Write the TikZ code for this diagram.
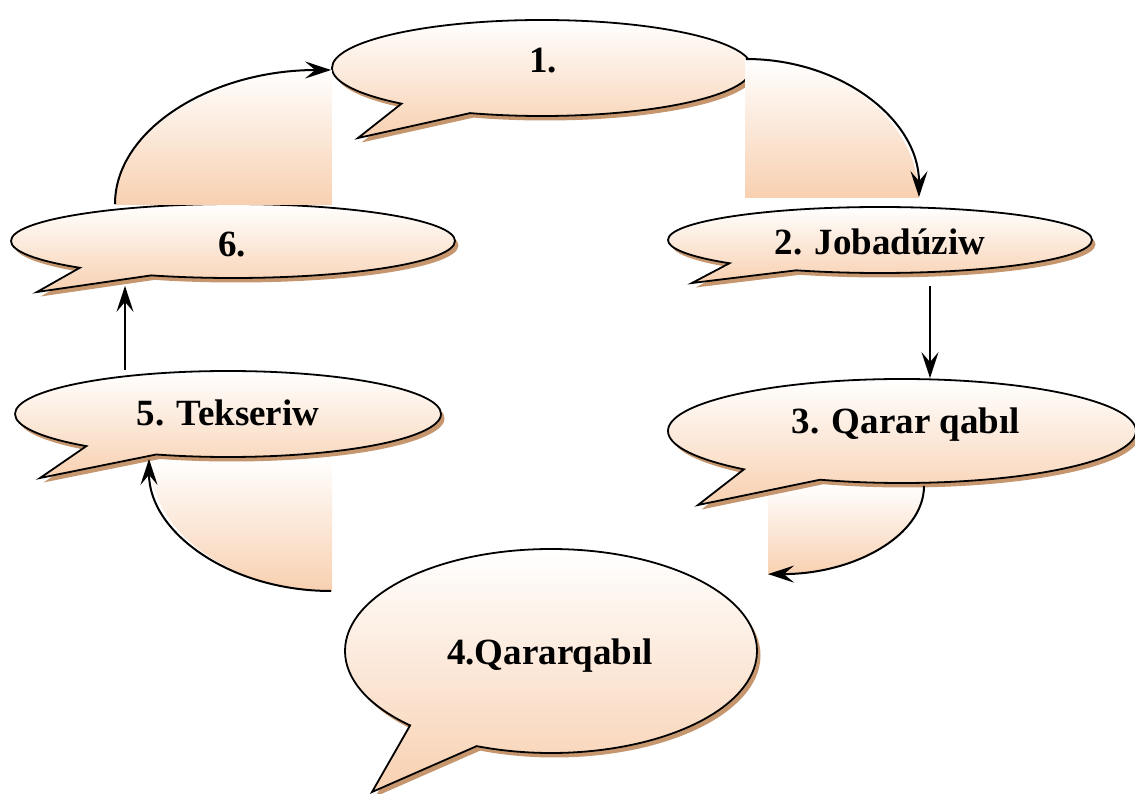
\documentclass[tikz,border=0pt]{standalone}
\usepackage{fontspec}
\setmainfont{Liberation Serif}
\usetikzlibrary{shapes.callouts,shadows,calc,arrows.meta}
\definecolor{peach}{RGB}{248,208,176}
\definecolor{shadowtan}{RGB}{198,150,110}
\begin{document}
\begin{tikzpicture}[x=1pt,y=-1pt,
  bubble/.style={ellipse callout, draw=black, line width=1.8pt, inner sep=0pt,
    callout pointer arc=22, top color=white, bottom color=peach,
    drop shadow={shadow xshift=3.5pt, shadow yshift=-4.5pt, fill=shadowtan, opacity=1}},
  lbl/.style={font=\bfseries\fontsize{37}{42}\selectfont, text height=25.5pt, text depth=0pt, inner sep=0pt},
  band/.style={top color=white, bottom color=peach, draw=none},
  conn/.style={line width=2pt, -{Stealth[length=26pt,width=17pt,inset=10pt]}}]
\useasboundingbox (0,0) rectangle (1135,794);
% fills under the lower callouts
\path[band] (768,485) -- (924,485) .. controls (924,534.7) and (854.2,575) .. (768,575) -- cycle;
\path[band] (332,458) -- (332,591) .. controls (230.9,591) and (149,531.5) .. (149,458) -- cycle;
% callouts
\node[bubble, minimum width=420pt, minimum height=96pt, callout absolute pointer={(358,138)}] (c1) at (542,68) {};
\node[bubble, minimum width=424pt, minimum height=66pt, callout absolute pointer={(692,283)}] (c2) at (880,240) {};
\node[bubble, minimum width=468pt, minimum height=104pt, callout absolute pointer={(698,505)}] (c3) at (902,431) {};
\node[bubble, minimum width=412pt, minimum height=204pt, callout absolute pointer={(372,792)}] (c4) at (551,651) {};
\node[bubble, minimum width=426pt, minimum height=86pt, callout absolute pointer={(40,478)}] (c5) at (228,414) {};
\node[bubble, minimum width=444pt, minimum height=74pt, callout absolute pointer={(37,292)}] (c6) at (233,241) {};
% fills of the upper connectors
\path[band] (332,205) -- (115,205) .. controls (115,130.4) and (212.2,70) .. (332,70) -- cycle;
\path[band] (745,198) -- (745,59) .. controls (841.1,59) and (919,121.2) .. (919,198) -- cycle;
% labels
\node[lbl] (t1) at (543,60) {1.};
\node[lbl] (t2) at (880,242) {2. Jobadúziw};
\node[lbl] (t3) at (906,421) {3. Qarar qabıl};
\node[lbl] (t4) at (550,652) {4.Qararqabıl};
\node[lbl] (t5) at (228,413) {5. Tekseriw};
\node[lbl] (t6) at (232,244) {6.};
% connectors
\draw[conn] ($(c6.north)+(-118,1)$) .. controls ($(c6.north)+(-118,-73.6)$) and ($(c1.west)+(-119.8,2)$) .. ($(c1.west)+(0,2)$);
\draw[conn] ($(c1.east)+(-7,-9)$) .. controls ($(c1.east)+(89.1,-9)$) and ($(c2.north)+(39,-85.8)$) .. ($(c2.north)+(39,-9)$);
\draw[conn] ($(c2.south)+(50,12)$) -- ($(c3.north)+(28,0)$);
\draw[conn] ($(c3.south)+(22,2)$) .. controls ($(c3.south)+(22,51.7)$) and ($(c4.north)+(303.2,26)$) .. ($(c4.north)+(217,26)$);
\draw[conn] ($(c4.west)+(-13,-60)$) .. controls ($(c4.west)+(-114.1,-60)$) and ($(c5.south)+(-79,74.5)$) .. ($(c5.south)+(-79,1)$);
\draw[conn] ($(c5.north)+(-103,0)$) -- ($(c6.south)+(-108,7)$);
\end{tikzpicture}
\end{document}
